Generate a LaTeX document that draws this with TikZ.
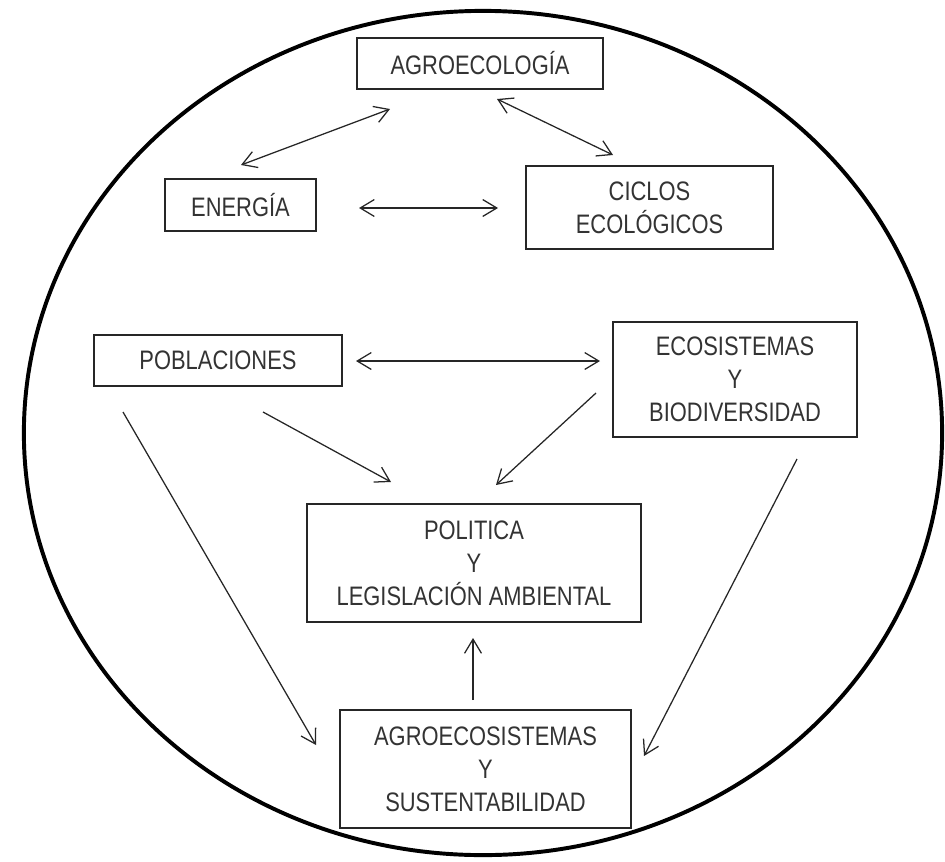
\documentclass[tikz,border=0pt]{standalone}
\usepackage{fontspec}
\setmainfont{Liberation Sans}[FakeStretch=0.82]
\usetikzlibrary{arrows.meta}
\begin{document}
\begin{tikzpicture}[x=0.025cm,y=-0.025cm,
  >={Straight Barb[length=10pt,width=12pt]},
  box/.style={draw=black!85, line width=1.3pt, inner sep=0pt, align=center,
    text=black!80, font=\fontsize{19}{23.5}\selectfont},
  link/.style={line width=0.9pt, draw=black!85}]
\useasboundingbox (0,0) rectangle (945,861);
\draw[line width=2.8pt] (483,433) ellipse [x radius=11.475cm, y radius=10.55cm];
% boxes
\node[box, minimum width=175.0pt, minimum height=36.3pt] (agro) at (480,63.5) {AGROECOLOGÍA};
\node[box, minimum width=107.4pt, minimum height=37.0pt] (ener) at (240.5,205) {ENERGÍA};
\node[box, minimum width=175.7pt, minimum height=59.0pt] (cicl) at (649.5,207.5) {CICLOS\\ECOLÓGICOS};
\node[box, minimum width=176.4pt, minimum height=36.3pt] (pobl) at (218,360.5) {POBLACIONES};
\node[box, minimum width=173.5pt, minimum height=82.0pt] (ecos) at (735,379.5) {ECOSISTEMAS\\Y\\BIODIVERSIDAD};
\node[box, minimum width=237.6pt, minimum height=83.9pt] (poli) at (474,563) {POLITICA\\Y\\LEGISLACIÓN AMBIENTAL};
\node[box, minimum width=207.0pt, minimum height=83.9pt] (agsi) at (485.5,769) {AGROECOSISTEMAS\\Y\\SUSTENTABILIDAD};
% connector end points
\coordinate (e1) at (241,165); \coordinate (a1) at (390,109);
\coordinate (a2) at (497,99);  \coordinate (c1) at (613,155);
\coordinate (e2) at (359,208); \coordinate (c2) at (498,208);
\coordinate (p1) at (356,361); \coordinate (s1) at (600,361);
\coordinate (p2) at (263,412); \coordinate (l1) at (391,482);
\coordinate (s2) at (596,393); \coordinate (l2) at (496,485);
\coordinate (p3) at (123,412); \coordinate (g1) at (316,745);
\coordinate (s3) at (797,459); \coordinate (g2) at (644,756);
\coordinate (g3) at (473,700); \coordinate (l3) at (473,638);
% connectors
\draw[link,<->] (e1) -- (a1);
\draw[link,<->] (a2) -- (c1);
\draw[link,<->] (e2) -- (c2);
\draw[link,<->] (p1) -- (s1);
\draw[link,->] (p2) -- (l1);
\draw[link,->] (s2) -- (l2);
\draw[link,->] (p3) -- (g1);
\draw[link,->] (s3) -- (g2);
\draw[link,->] (g3) -- (l3);
\end{tikzpicture}
\end{document}
